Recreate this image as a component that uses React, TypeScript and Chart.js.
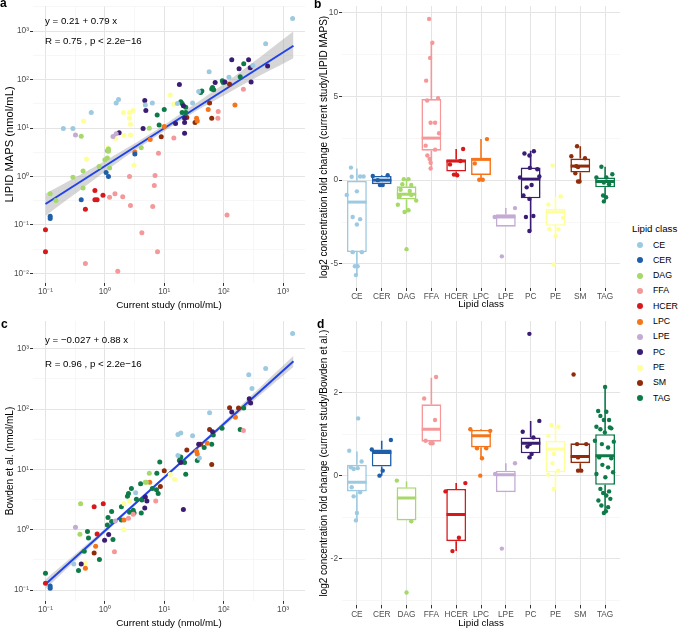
import React, { useEffect, useRef } from 'react';
import { Chart, registerables } from 'chart.js';
Chart.register(...registerables);

const FONT = "'Liberation Sans', Arial, Helvetica, sans-serif";

const lipidClasses = ['CE', 'CER', 'DAG', 'FFA', 'HCER', 'LPC', 'LPE', 'PC', 'PE', 'SM', 'TAG'];
const classColors = ['#9ECAE1', '#1F5FAA', '#A6D96A', '#F4989A', '#D7191C', '#F6741A', '#C4ABD3', '#3A1C73', '#FFFF99', '#8E2C0B', '#0E7A48'];

// Panel a: [current study, LIPID MAPS] (nmol/mL), per lipid class
const lipidMapsPoints: number[][][] = [
  [[1450, 1830], [510, 550], [310, 195], [123, 112], [57, 145], [38, 57], [30, 33], [16.7, 32], [6.3, 33], [4.8, 30], [1.55, 33], [1.7, 39], [0.59, 21], [0.29, 9.8], [0.2, 9.8]],
  [[3.2, 2.9], [1.15, 1.0], [1.05, 1.2], [0.4, 0.33], [0.12, 0.15], [0.12, 0.135]],
  [[5.6, 9.9], [4.1, 3.9], [1.15, 3.7], [1.15, 3.3], [1.1, 2.4], [1.2, 1.5], [1.0, 2.2], [0.8, 1.6], [0.43, 1.3], [0.4, 6.8], [0.29, 0.96], [0.43, 0.58], [0.12, 0.44], [0.15, 0.32]],
  [[215, 63], [114, 0.16], [81, 22], [80, 16], [14.5, 6.2], [8, 3], [7, 1.05], [6.8, 0.65], [6.4, 0.24], [7.7, 0.028], [4.2, 0.069], [2.6, 1.0], [2.7, 0.25], [2, 0.38], [1.48, 0.44], [1.2, 0.37], [1.65, 0.011], [0.47, 0.016]],
  [[0.1, 0.079], [0.1, 0.028], [0.47, 0.21], [0.68, 0.51], [0.68, 0.33], [0.74, 0.33], [0.93, 0.41]],
  [[155, 30], [55, 24], [35, 16], [36, 14], [10, 10.7], [5.8, 5.8], [3.2, 3.2]],
  [[0.32, 7.2], [1.37, 6.7], [1.55, 7.6], [1.1, 3.4]],
  [[263, 257], [137, 257], [182, 167], [280, 175], [550, 190], [290, 89], [105, 89], [72, 87], [18, 79], [21, 29], [22, 16], [22, 13], [22, 7.8], [15.5, 12.4], [4.7, 37], [4.9, 23], [4.4, 9.8], [1.74, 8]],
  [[12.6, 48], [14.5, 31], [0.44, 14], [0.49, 2.3], [1.13, 3.9], [2.06, 21], [2.6, 21], [3, 23], [2.6, 16], [2.7, 12], [2.7, 7.2], [2.1, 7], [1.5, 6.1], [3.1, 1.7]],
  [[126, 80], [58, 33], [63, 16], [33, 13], [24, 16.5], [8.9, 6.6]],
  [[218, 213], [190, 115], [95, 95], [98, 87], [65, 69], [63, 64], [68, 62], [43, 58], [41, 54], [19, 35], [20, 32], [23, 27], [20, 21], [23, 21], [10, 24], [7.6, 18.6], [8.2, 11.5]],
];

// Panel c: [current study, Bowden et al.] (nmol/mL), per lipid class
const bowdenPoints: number[][][] = [
  [[1450, 1790], [510, 470], [265, 370], [300, 220], [58, 87], [30, 36], [17, 38], [19, 40], [17, 17], [39, 15.5], [3.3, 4.1], [0.3, 0.27]],
  [[0.12, 0.117], [0.12, 0.107]],
  [[0.39, 2.7], [0.38, 0.84], [5.6, 8.6], [4.8, 6.1], [5, 6.1]],
  [[215, 44], [7.2, 3.0], [3, 1.8], [2.5, 1.55], [1.45, 0.43]],
  [[0.94, 2.7], [0.66, 2.4], [0.74, 0.85], [0.1, 0.13]],
  [[158, 73], [53, 27], [35, 20], [36, 18], [5.7, 6.1], [2.1, 1.45], [0.7, 0.53], [0.47, 0.23]],
  [[1.5, 1.4], [0.32, 1.1]],
  [[285, 126], [270, 148], [137, 89], [65, 42], [38, 26], [21, 2.16], [19, 13], [5.1, 3.0], [4.8, 3.5], [4.7, 2.3], [1.16, 0.83], [0.99, 0.67], [0.4, 0.27]],
  [[15, 6.8], [12.6, 8.2], [2.1, 2.7], [2.6, 3.0], [2.1, 1.0], [0.47, 0.28]],
  [[126, 105], [178, 104], [58, 46], [63, 12], [41, 26], [24, 21], [10, 9.5], [8.6, 5.2], [0.66, 0.41]],
  [[218, 104], [190, 46], [94, 48], [67, 37], [63, 26], [47, 23], [36, 14], [23, 8.3], [19, 16], [18, 14], [22, 13], [18.6, 15], [8.4, 13.3], [7.5, 8.6], [7.4, 4.6], [7.9, 4], [6.3, 4.8], [4.2, 3.1], [4.1, 1.9], [4, 5.8], [3.4, 3.2], [3.1, 1.9], [3, 2.1], [2.6, 1.95], [2.8, 4.8], [2.5, 4.0], [2.4, 3.6], [1.9, 2.4], [1.9, 1.45], [1.3, 2.0], [1.3, 1.37], [1.13, 1.6], [1.1, 1.2], [1.37, 0.69], [0.53, 0.73], [0.51, 0.93], [0.45, 0.44], [0.81, 0.32], [0.36, 0.21], [0.1, 0.19]],
];

// Regression lines and confidence bands
const fitAX = [0.1, 1500];
const fitAY = [0.27, 500];
const bandAX = [0.1, 0.3, 1, 3, 10, 30, 100, 300, 1500];
const bandALow = [0.153, 0.419, 1.256, 3.26, 8.62, 20.2, 46.7, 99.3, 276];
const bandAHigh = [0.442, 0.918, 2.09, 4.62, 11.6, 29.2, 81.4, 218, 1000];

const fitCX = [0.1, 1500];
const fitCY = [0.125, 620];
const bandCX = [0.1, 1, 10, 100, 1500];
const bandCLow = [0.104, 0.886, 6.95, 51.5, 504];
const bandCHigh = [0.15, 1.04, 7.79, 61.9, 763];

// Panel b: log2 fold change (current study / LIPID MAPS); box stats per class
const bQ1 = [-4.29, -0.24, -1.16, 1.76, 0.51, 0.31, -2.78, -1.08, -2.73, 0.45, -0.43];
const bQ3 = [-0.04, 0.25, -0.37, 4.84, 1.24, 1.33, -2.04, 0.75, -1.71, 1.29, 0.16];
const bMed = [-1.31, 0.0, -0.84, 2.51, 1.14, 1.24, -2.2, 0.06, -1.9, 0.84, -0.08];
const bLo = [-5.67, -0.3, -1.94, 0.65, 0.31, 0.0, -2.78, -3.08, -3.39, -0.08, -1.27];
const bHi = [0.7, 0.3, 0.06, 8.2, 1.86, 2.45, -1.67, 1.76, -0.98, 2.02, 0.8];
// jittered points: [horizontal offset within category, value]
const bPoints: number[][][] = [
  [[-0.24, 0.75], [0.13, 0.22], [0.27, 0.22], [-0.21, 0.2], [0, -0.67], [-0.41, -0.88], [-0.17, -2.2], [0.13, -2.33], [0, -2.65], [-0.17, -4.3], [0.2, -4.3], [-0.08, -5.14], [0.03, -5.14], [-0.04, -5.67]],
  [[-0.36, 0.25], [0.24, 0.29], [-0.07, -0.29], [0.04, -0.29], [-0.16, 0]],
  [[-0.11, 0.06], [0.08, 0.06], [-0.17, -0.24], [0.19, -0.29], [-0.24, -0.57], [0.13, -0.65], [-0.28, -0.96], [0.19, -0.88], [0.39, -1.22], [-0.35, -1.47], [-0.08, -1.9], [0.08, -1.8], [0, -4.12]],
  [[-0.09, 9.63], [0.04, 8.2], [-0.05, 7.3], [-0.21, 5.94], [-0.17, 4.76], [0.27, 4.9], [-0.03, 3.43], [0.15, 3.43], [0.31, 2.8], [-0.23, 2.06], [0.15, 1.82], [-0.16, 1.47], [-0.07, 1.27], [-0.03, 1.04], [-0.03, 0.7]],
  [[0.28, 1.86], [-0.25, 0.94], [-0.09, 0.33], [0.04, 0.29], [0.17, 1.14]],
  [[0.24, 2.45], [-0.25, 1.0], [-0.07, 0.02], [0.07, 0.02]],
  [[0.37, -1.67], [-0.45, -2.2], [-0.16, -4.55]],
  [[-0.25, 1.59], [0.13, 1.73], [-0.05, 1.47], [-0.03, 0.73], [0.27, 0.65], [-0.43, 0.16], [0.35, 0.22], [-0.16, -0.43], [0.04, -0.29], [-0.29, -0.92], [-0.05, -1.12], [-0.19, -2.2], [0.11, -2.14], [-0.05, -3.04]],
  [[-0.12, 0.88], [0.21, -0.96], [-0.29, -1.45], [0.31, -2.25], [-0.25, -2.92], [0.12, -2.93], [0.01, -3.35], [-0.07, -5.04]],
  [[-0.13, 2.02], [-0.36, 1.43], [0.19, 1.31], [-0.16, 0.84], [-0.09, 0.78], [-0.2, 0.41], [-0.09, -0.08], [-0.03, -0.08]],
  [[-0.15, 0.8], [0.29, 0.35], [-0.35, 0.16], [0.05, 0.16], [-0.05, -0.14], [0.16, -0.24], [-0.08, -0.92], [0.04, -1.02], [-0.05, -1.27]],
];

// Panel d: log2 fold change (current study / Bowden et al.)
const dQ1 = [-0.38, 0.22, -1.08, 0.82, -1.58, 0.68, -0.4, 0.54, 0.08, 0.3, -0.22];
const dQ3 = [0.26, 0.63, -0.28, 1.72, -0.32, 1.1, 0.12, 0.92, 0.84, 0.78, 1.0];
const dMed = [-0.16, 0.56, -0.54, 1.12, -0.94, 0.96, 0.02, 0.78, 0.64, 0.46, 0.48];
const dLo = [-1.08, 0.0, -1.08, 0.78, -1.82, 0.42, -0.4, 0.4, -0.32, 0.14, -0.9];
const dHi = [0.58, 0.84, -0.14, 2.36, -0.18, 1.12, 0.3, 1.32, 1.22, 0.78, 2.18];
const dPoints: number[][][] = [
  [[-0.31, 0.6], [0.05, 1.38], [0.19, 0.34], [-0.24, 0.2], [-0.13, 0.16], [0.03, 0.18], [-0.21, -0.28], [0.13, -0.4], [-0.13, -0.5], [0, -0.9], [-0.04, -1.08]],
  [[0.37, 0.86], [-0.4, 0.63], [0.04, 0.12], [-0.09, 0]],
  [[-0.39, -0.12], [0.19, -1.1], [0, -2.82]],
  [[-0.29, 1.86], [0.19, 2.38], [0.15, 1.34], [-0.23, 0.84], [-0.03, 0.78], [0.05, 0.78]],
  [[0.37, -0.18], [-0.43, -0.38], [0.11, -1.5], [-0.15, -1.82]],
  [[-0.43, 1.12], [0.37, 1.08], [-0.16, 0.66], [0.21, 0.66], [0.04, 0.42], [-0.03, 0]],
  [[0.37, 0.3], [-0.16, -1.76], [-0.43, 0.04]],
  [[-0.05, 3.42], [0.35, 1.32], [-0.32, 1.06], [0.11, 0.92], [-0.13, 0.7], [-0.03, 0.76], [-0.05, 0.44], [0.04, 0.52]],
  [[-0.16, 1.22], [0.12, 1.18], [-0.29, 0.96], [-0.07, 0.52], [-0.12, 0.3], [0.11, 0.12], [-0.29, 0.02], [-0.07, -0.32]],
  [[-0.27, 2.44], [-0.13, 0.76], [0.24, 0.76], [-0.09, 0.12], [0.04, 0.12], [-0.09, 0.44]],
  [[0, 2.14], [-0.28, 1.56], [0.05, 1.54], [-0.19, 1.44], [0.16, 1.34], [-0.05, 1.34], [-0.35, 1.18], [0.19, 1.16], [-0.19, 1.12], [0.25, 1.14], [-0.01, 1.04], [-0.41, 0.84], [0.35, 0.82], [-0.13, 0.76], [0.12, 0.68], [-0.24, 0.44], [0.25, 0.42], [-0.11, 0.26], [0.12, 0.2], [-0.35, 0.04], [0.32, 0.08], [0.01, -0.04], [-0.19, -0.32], [0.16, -0.38], [-0.08, -0.42], [0.05, -0.48], [-0.27, -0.6], [0.21, -0.56], [-0.15, -0.72], [0.12, -0.76], [-0.05, -0.9], [0.03, -0.86]],
];

// Axis tick definitions
const logExpsA_X = [-1, 0, 1, 2, 3];
const logExpsA_Y = [-2, -1, 0, 1, 2, 3];
const logExpsC_Y = [-1, 0, 1, 2, 3];
const bMajors = [-5, 0, 5, 10];
const bMinors = [-2.5, 2.5, 7.5];
const dMajors = [-2, 0, 2];
const dMinors = [-3, -1, 1, 3];

const SUP: Record<string, string> = { '-': '⁻', '0': '⁰', '1': '¹', '2': '²', '3': '³', '4': '⁴', '5': '⁵', '6': '⁶', '7': '⁷', '8': '⁸', '9': '⁹' };
const powLabel = (e: number) => '10' + String(e).split('').map((c) => SUP[c]).join('');

const gridColor = (ctx: any) => (ctx.tick && ctx.tick.minor ? '#F1F1F1' : '#E4E4E4');
const gridWidth = (ctx: any) => (ctx.tick && ctx.tick.minor ? 0.6 : 1);
const tickMarkColor = (ctx: any) => (ctx.tick && ctx.tick.minor ? 'rgba(0,0,0,0)' : '#333333');

function logScale(axis: 'x' | 'y', min: number, max: number, exps: number[], title: string, size: number, titlePad: any, titleSize: number) {
  return {
    type: 'logarithmic',
    position: axis === 'x' ? 'bottom' : 'left',
    min,
    max,
    afterBuildTicks: (s: any) => {
      const t: any[] = [];
      exps.forEach((e) => t.push({ value: Math.pow(10, e) }));
      exps.concat([exps[0] - 1]).forEach((e) => {
        const v = Math.pow(10, e + 0.5);
        if (v >= min && v <= max) t.push({ value: v, minor: true });
      });
      t.sort((a, b) => a.value - b.value);
      s.ticks = t;
    },
    afterFit: (s: any) => {
      if (axis === 'x') s.height = size;
      else s.width = size;
    },
    ticks: {
      autoSkip: false,
      maxRotation: 0,
      padding: 1,
      color: '#4D4D4D',
      font: { family: FONT, size: 8.3 },
      callback: (v: any, i: number, ticks: any[]) => (ticks[i].minor ? '' : powLabel(Math.round(Math.log10(v)))),
    },
    grid: { color: gridColor, lineWidth: gridWidth, tickColor: tickMarkColor, tickLength: 3, drawTicks: true },
    border: { display: false },
    title: { display: true, text: title, color: '#000', font: { family: FONT, size: titleSize }, padding: titlePad },
  };
}

function linYScale(min: number, max: number, majors: number[], minors: number[], title: string, size: number, titlePad: any) {
  return {
    type: 'linear',
    position: 'left',
    min,
    max,
    afterBuildTicks: (s: any) => {
      const t: any[] = majors.map((v) => ({ value: v })).concat(minors.map((v) => ({ value: v, minor: true })));
      t.sort((a, b) => a.value - b.value);
      s.ticks = t;
    },
    afterFit: (s: any) => {
      s.width = size;
    },
    ticks: {
      autoSkip: false,
      padding: 1,
      color: '#4D4D4D',
      font: { family: FONT, size: 8.3 },
      callback: (v: any, i: number, ticks: any[]) => (ticks[i].minor ? '' : String(v)),
    },
    grid: { color: gridColor, lineWidth: gridWidth, tickColor: tickMarkColor, tickLength: 3, drawTicks: true },
    border: { display: false },
    title: { display: true, text: title, color: '#000', font: { family: FONT, size: 10 }, padding: titlePad },
  };
}

function catXScale(size: number, titlePad: any) {
  return {
    type: 'linear',
    position: 'bottom',
    min: 0.4,
    max: 11.6,
    offset: false,
    afterBuildTicks: (s: any) => {
      s.ticks = lipidClasses.map((c, i) => ({ value: i + 1 }));
    },
    afterFit: (s: any) => {
      s.height = size;
    },
    ticks: {
      autoSkip: false,
      maxRotation: 0,
      padding: 1,
      color: '#4D4D4D',
      font: { family: FONT, size: 8.3 },
      callback: (v: any) => lipidClasses[Math.round(v) - 1] || '',
    },
    grid: { color: '#E4E4E4', lineWidth: 1, tickColor: '#333333', tickLength: 3, drawTicks: true, offset: false },
    border: { display: false },
    title: { display: true, text: 'Lipid class', color: '#000', font: { family: FONT, size: 9.8 }, padding: titlePad },
  };
}

function scatterDatasets(points: number[][][], fitX: number[], fitY: number[], bandX: number[], bandLow: number[], bandHigh: number[]) {
  const ds: any[] = points.map((pts, i) => ({
    type: 'scatter',
    label: lipidClasses[i],
    data: pts.map(([x, y]) => ({ x, y })),
    backgroundColor: classColors[i],
    borderWidth: 0,
    pointRadius: 2.5,
    order: 0,
  }));
  ds.push({
    type: 'line',
    data: fitX.map((x, i) => ({ x, y: fitY[i] })),
    borderColor: '#1F42EA',
    borderWidth: 2,
    pointRadius: 0,
    order: 1,
  });
  const upperIndex = ds.length;
  ds.push({
    type: 'line',
    data: bandX.map((x, i) => ({ x, y: bandHigh[i] })),
    borderWidth: 0,
    borderColor: 'rgba(0,0,0,0)',
    backgroundColor: 'rgba(153,153,153,0.4)',
    pointRadius: 0,
    tension: 0.3,
    fill: upperIndex + 1,
    order: 2,
  });
  ds.push({
    type: 'line',
    data: bandX.map((x, i) => ({ x, y: bandLow[i] })),
    borderWidth: 0,
    borderColor: 'rgba(0,0,0,0)',
    pointRadius: 0,
    tension: 0.3,
    fill: false,
    order: 3,
  });
  return ds;
}

function boxDatasets(points: number[][][], q1: number[], q3: number[], med: number[], lo: number[], hi: number[]) {
  const ds: any[] = [];
  points.forEach((pts, i) => {
    ds.push({
      type: 'scatter',
      label: lipidClasses[i],
      data: pts.map(([o, v]) => ({ x: i + 1 + o, y: v })),
      backgroundColor: classColors[i],
      borderWidth: 0,
      pointRadius: 2.2,
      order: 0,
    });
  });
  lipidClasses.forEach((c, i) => {
    ds.push({
      type: 'line',
      data: [{ x: i + 1 - 0.39, y: med[i] }, { x: i + 1 + 0.39, y: med[i] }],
      borderColor: classColors[i],
      borderWidth: 3,
      pointRadius: 0,
      order: 1,
    });
    ds.push({
      type: 'line',
      data: [
        { x: i + 1, y: hi[i] },
        { x: i + 1, y: q3[i] },
        { x: i + 1, y: null },
        { x: i + 1, y: q1[i] },
        { x: i + 1, y: lo[i] },
      ],
      borderColor: classColors[i],
      borderWidth: 1.6,
      pointRadius: 0,
      spanGaps: false,
      order: 2,
    });
  });
  ds.push({
    type: 'bar',
    data: lipidClasses.map((c, i) => ({ x: i + 1, y: [q1[i], q3[i]] })),
    backgroundColor: '#FFFFFF',
    borderColor: classColors,
    borderWidth: 1.6,
    borderSkipped: false,
    barPercentage: 0.8,
    categoryPercentage: 1,
    order: 3,
  });
  return ds;
}

function baseOptions(padding: any, scales: any) {
  return {
    responsive: false,
    maintainAspectRatio: false,
    devicePixelRatio: 1,
    animation: false,
    events: [],
    layout: { padding },
    plugins: { legend: { display: false }, tooltip: { enabled: false } },
    scales,
  };
}

export default function App() {
  const refA = useRef<HTMLCanvasElement>(null);
  const refB = useRef<HTMLCanvasElement>(null);
  const refC = useRef<HTMLCanvasElement>(null);
  const refD = useRef<HTMLCanvasElement>(null);

  useEffect(() => {
    const charts: Chart[] = [];
    charts.push(
      new Chart(refA.current as HTMLCanvasElement, {
        type: 'scatter',
        data: { datasets: scatterDatasets(lipidMapsPoints, fitAX, fitAY, bandAX, bandALow, bandAHigh) },
        options: baseOptions({ left: 0, top: 1, right: 15, bottom: 0 }, {
          x: logScale('x', Math.pow(10, -1.21), Math.pow(10, 3.37), logExpsA_X, 'Current study (nmol/mL)', 32, { top: 1, bottom: 4 }, 9.8),
          y: logScale('y', Math.pow(10, -2.2), Math.pow(10, 3.52), logExpsA_Y, 'LIPID MAPS (nmol/mL)', 33, { top: 3, bottom: 2 }, 11.2),
        }),
      } as any)
    );
    charts.push(
      new Chart(refB.current as HTMLCanvasElement, {
        type: 'scatter',
        data: { datasets: boxDatasets(bPoints, bQ1, bQ3, bMed, bLo, bHi) },
        options: baseOptions({ left: 0, top: 0, right: 5, bottom: 0 }, {
          x: catXScale(27, { top: 1, bottom: 5 }),
          y: linYScale(-6.44, 10.4, bMajors, bMinors, 'log2 concentration fold change (current study/LIPID MAPS)', 32, { top: 8, bottom: 2 }),
        }),
      } as any)
    );
    charts.push(
      new Chart(refC.current as HTMLCanvasElement, {
        type: 'scatter',
        data: { datasets: scatterDatasets(bowdenPoints, fitCX, fitCY, bandCX, bandCLow, bandCHigh) },
        options: baseOptions({ left: 0, top: 5.2, right: 15, bottom: 0 }, {
          x: logScale('x', Math.pow(10, -1.21), Math.pow(10, 3.37), logExpsA_X, 'Current study (nmol/mL)', 28.1, { top: 1, bottom: 0 }, 9.8),
          y: logScale('y', Math.pow(10, -1.18), Math.pow(10, 3.46), logExpsC_Y, 'Bowden et al. (nmol/mL)', 33, { top: 4, bottom: 2 }, 10),
        }),
      } as any)
    );
    charts.push(
      new Chart(refD.current as HTMLCanvasElement, {
        type: 'scatter',
        data: { datasets: boxDatasets(dPoints, dQ1, dQ3, dMed, dLo, dHi) },
        options: baseOptions({ left: 0, top: 4.6, right: 5, bottom: 0 }, {
          x: catXScale(23.6, { top: 0, bottom: 0 }),
          y: linYScale(-3.13, 3.73, dMajors, dMinors, 'log2 concentration fold change (current study/Bowden et al.)', 32, { top: 8, bottom: 2 }),
        }),
      } as any)
    );
    return () => charts.forEach((c) => c.destroy());
  }, []);

  const abs = (left: number, top: number, extra: any = {}) => ({ position: 'absolute' as const, left, top, ...extra });
  const eqStyle = { fontSize: 9.7, lineHeight: '9.7px', color: '#000', whiteSpace: 'nowrap' as const };
  const tagStyle = { fontSize: 12, lineHeight: '12px', fontWeight: 'bold' as const, color: '#000' };

  return (
    <div style={{ position: 'absolute', left: 0, top: 0, width: 680, height: 629, background: '#FFFFFF', fontFamily: FONT, overflow: 'hidden' }}>
      <canvas ref={refA} width={320} height={315} style={abs(0, 0, { width: 320, height: 315 })} />
      <canvas ref={refB} width={315} height={315} style={abs(310, 0, { width: 315, height: 315 })} />
      <canvas ref={refC} width={320} height={314} style={abs(0, 315, { width: 320, height: 314 })} />
      <canvas ref={refD} width={315} height={314} style={abs(310, 315, { width: 315, height: 314 })} />

      <div style={abs(0, -3, tagStyle)}>a</div>
      <div style={abs(314, -2, tagStyle)}>b</div>
      <div style={abs(1, 318, tagStyle)}>c</div>
      <div style={abs(317, 318, tagStyle)}>d</div>

      <div style={abs(45, 16, eqStyle)}>y = 0.21 + 0.79 x</div>
      <div style={abs(45, 36.4, eqStyle)}>R = 0.75 , p &lt; 2.2e−16</div>
      <div style={abs(45, 334.8, eqStyle)}>y = −0.027 + 0.88 x</div>
      <div style={abs(45, 358.8, eqStyle)}>R = 0.96 , p &lt; 2.2e−16</div>

      <div style={abs(632, 223, { fontSize: 9.7, lineHeight: '11px', color: '#000', whiteSpace: 'nowrap' })}>Lipid class</div>
      {lipidClasses.map((c, i) => (
        <React.Fragment key={c}>
          <div style={abs(636.5, 245 + i * 15.33 - 3, { width: 6, height: 6, borderRadius: '50%', background: classColors[i] })} />
          <div style={abs(653, 245 + i * 15.33 - 5.5, { fontSize: 8.8, lineHeight: '11px', color: '#000' })}>{c}</div>
        </React.Fragment>
      ))}
    </div>
  );
}
